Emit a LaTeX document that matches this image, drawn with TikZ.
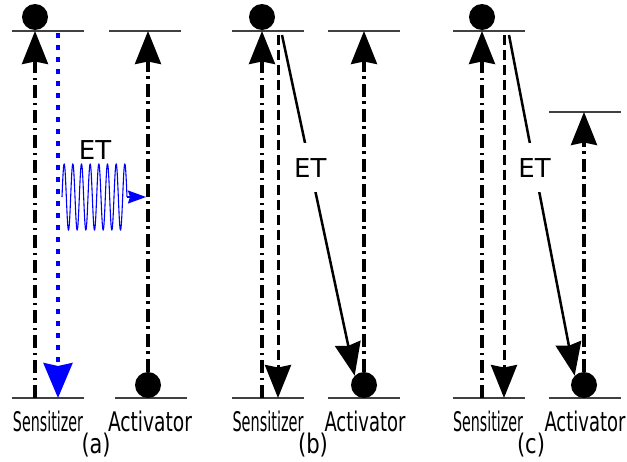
\documentclass[tikz,border=0pt]{standalone}
\usepackage{fontspec}
\setmainfont{DejaVu Sans}
\usepackage{graphicx}
\usetikzlibrary{arrows.meta}
\begin{document}
\begin{tikzpicture}[x=1pt,y=-1pt,
  level/.style={draw=black!75, line width=2pt},
  dashdot/.style={line width=3.3pt, dash pattern=on 13pt off 5pt on 2.5pt off 4.5pt},
  bigtip/.style={-{Stealth[length=33pt,width=26pt,inset=2.5pt]}},
  dashln/.style={line width=3pt, dash pattern=on 10pt off 5pt},
  etline/.style={line width=2.5pt},
  dot/.style={circle, fill=black, inner sep=0pt, minimum size=26pt},
  lbl/.style={anchor=base, inner sep=0pt, font=\fontsize{27}{31}\selectfont},
  tag/.style={anchor=base, inner sep=0pt, font=\fontsize{27}{31}\selectfont},
  etlbl/.style={font=\fontsize{26}{30}\selectfont, inner sep=1pt},
  etgap/.style={font=\fontsize{26}{30}\selectfont, fill=white, inner xsep=3pt, inner ysep=15pt}
]
\useasboundingbox (0,0) rectangle (627,461);

% ---------------- panel (a) ----------------
\coordinate (a-stl) at (12,31);  \coordinate (a-str) at (84,31);
\coordinate (a-atl) at (109,31); \coordinate (a-atr) at (181,31);
\coordinate (a-sbl) at (12,398); \coordinate (a-sbr) at (84,398);
\coordinate (a-abl) at (115,398);\coordinate (a-abr) at (187,398);
\draw[level] (a-stl) -- (a-str);
\draw[level] (a-atl) -- (a-atr);
\draw[level] (a-sbl) -- (a-sbr);
\draw[level] (a-abl) -- (a-abr);
\node[dot] (a-sd) at (35,17) {};
\node[dot] (a-ad) at (148,385) {};
\coordinate (a-s0) at (35,398); \coordinate (a-s1) at (35,31);
\coordinate (a-a1) at (148,31);
\draw[dashdot,bigtip] (a-s0) -- (a-s1);
\draw[dashdot,bigtip] (a-ad.north) -- (a-a1);
\coordinate (a-d0) at (58,33); \coordinate (a-d1) at (58,398);
\draw[blue, line width=3.5pt, dash pattern=on 5pt off 7pt,
      -{Stealth[length=35pt,width=29pt,inset=3pt]}] (a-d0) -- (a-d1);
\draw[blue, line width=1.1pt] plot[domain=0:65, samples=500, smooth]
      ({62+\x},{197-33*sin(\x/65*2700)});
\coordinate (a-c1) at (127,197); \coordinate (a-c2) at (146,197);
\draw[blue, line width=1.1pt, -{Stealth[length=18pt,width=13pt,inset=2pt]}] (a-c1) -- (a-c2);
\node[etlbl] (a-et) at (95,150) {ET};
\node[lbl] (a-sl) at (48,431) {\resizebox{70pt}{\height}{Sensitizer}};
\node[lbl] (a-al) at (150,431) {\resizebox{84pt}{\height}{Activator}};
\node[tag] (a-tag) at (96,453) {\resizebox{29pt}{\height}{(a)}};

% ---------------- panel (b) ----------------
\coordinate (b-stl) at (232,31);  \coordinate (b-str) at (304,31);
\coordinate (b-atl) at (328,31);  \coordinate (b-atr) at (400,31);
\coordinate (b-sbl) at (232,398); \coordinate (b-sbr) at (304,398);
\coordinate (b-abl) at (328,398); \coordinate (b-abr) at (400,398);
\draw[level] (b-stl) -- (b-str);
\draw[level] (b-atl) -- (b-atr);
\draw[level] (b-sbl) -- (b-sbr);
\draw[level] (b-abl) -- (b-abr);
\node[dot] (b-sd) at (262,17) {};
\node[dot] (b-ad) at (364,385) {};
\coordinate (b-s0) at (262,398); \coordinate (b-s1) at (262,31);
\coordinate (b-a1) at (364,31);
\draw[dashdot,bigtip] (b-s0) -- (b-s1);
\draw[dashdot,bigtip] (b-ad.north) -- (b-a1);
\coordinate (b-d0) at (278,35); \coordinate (b-d1) at (278,398);
\draw[dashln,bigtip] (b-d0) -- (b-d1);
\coordinate (b-e0) at (282,35);
\draw[etline,bigtip] (b-e0) -- node[etgap,pos=0.39] (b-et) {ET} (b-ad.north west);
\node[lbl] (b-sl) at (268,431) {\resizebox{71pt}{\height}{Sensitizer}};
\node[lbl] (b-al) at (365,431) {\resizebox{81pt}{\height}{Activator}};
\node[tag] (b-tag) at (313,453) {\resizebox{30pt}{\height}{(b)}};

% ---------------- panel (c) ----------------
\coordinate (c-stl) at (453,31);  \coordinate (c-str) at (525,31);
\coordinate (c-atl) at (549,112); \coordinate (c-atr) at (621,112);
\coordinate (c-sbl) at (453,398); \coordinate (c-sbr) at (525,398);
\coordinate (c-abl) at (549,398); \coordinate (c-abr) at (621,398);
\draw[level] (c-stl) -- (c-str);
\draw[level] (c-atl) -- (c-atr);
\draw[level] (c-sbl) -- (c-sbr);
\draw[level] (c-abl) -- (c-abr);
\node[dot] (c-sd) at (482,17) {};
\node[dot] (c-ad) at (584,385) {};
\coordinate (c-s0) at (482,398); \coordinate (c-s1) at (482,31);
\coordinate (c-a1) at (584,112);
\draw[dashdot,bigtip] (c-s0) -- (c-s1);
\draw[dashdot,bigtip] (c-ad.north) -- (c-a1);
\coordinate (c-d0) at (504,35); \coordinate (c-d1) at (504,398);
\draw[dashln,bigtip] (c-d0) -- (c-d1);
\coordinate (c-e0) at (509,35);
\draw[etline,bigtip] (c-e0) -- node[etgap,pos=0.39] (c-et) {ET} (c-ad.north west);
\node[lbl] (c-sl) at (488,431) {\resizebox{70pt}{\height}{Sensitizer}};
\node[lbl] (c-al) at (585,431) {\resizebox{81pt}{\height}{Activator}};
\node[tag] (c-tag) at (531,453) {\resizebox{28pt}{\height}{(c)}};
\end{tikzpicture}
\end{document}
